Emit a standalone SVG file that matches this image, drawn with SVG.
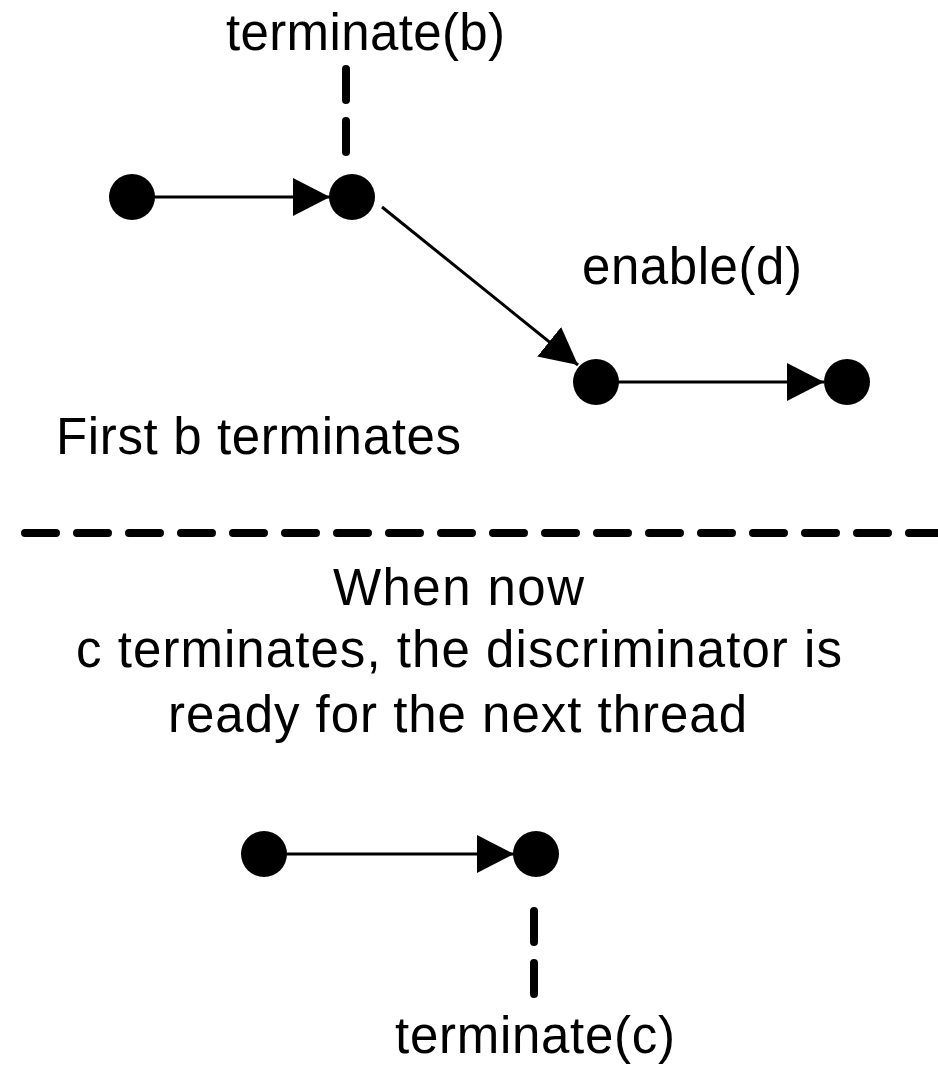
<svg xmlns="http://www.w3.org/2000/svg" width="938" height="1070" viewBox="0 0 938 1070">
<defs>
<style>
.t{font-family:"Liberation Sans",Arial,sans-serif;font-size:51px;fill:#000;text-anchor:middle}
.node{fill:#000}
.edge{stroke:#000;stroke-width:3;fill:none}
.dash{stroke:#000;stroke-width:8;stroke-linecap:round;stroke-dasharray:31 21;fill:none}
</style>
<marker id="ah" markerWidth="37" markerHeight="38" refX="37" refY="19" orient="auto" markerUnits="userSpaceOnUse">
<path d="M0,0 L37,19 L0,38 Z" fill="#000"/>
</marker>
</defs>
<rect width="938" height="1070" fill="#fff"/>
<g id="connectors">
<line class="edge" x1="154" y1="197" x2="330" y2="197" marker-end="url(#ah)"/>
<line class="edge" x1="382" y1="207" x2="578" y2="365" marker-end="url(#ah)"/>
<line class="edge" x1="618" y1="382" x2="824" y2="382" marker-end="url(#ah)"/>
<line class="edge" x1="286" y1="854" x2="514" y2="854" marker-end="url(#ah)"/>
<line class="dash" x1="346" y1="69" x2="346" y2="152"/>
<line class="dash" x1="534" y1="911" x2="534" y2="994"/>
<line class="dash" x1="25" y1="533" x2="960" y2="533"/>
</g>
<g id="n1"><circle class="node" cx="132" cy="197" r="23"/></g>
<g id="n2"><circle class="node" cx="352" cy="197" r="23"/></g>
<g id="n3"><circle class="node" cx="596" cy="382" r="23"/></g>
<g id="n4"><circle class="node" cx="847" cy="382" r="23"/></g>
<g id="n5"><circle class="node" cx="264" cy="854" r="23"/></g>
<g id="n6"><circle class="node" cx="536" cy="854" r="23"/></g>
<g id="labels">
<text class="t" x="365.5" y="50" textLength="279" lengthAdjust="spacing">terminate(b)</text>
<text class="t" x="692" y="284" textLength="220" lengthAdjust="spacing">enable(d)</text>
<text class="t" x="258.5" y="454" textLength="405" lengthAdjust="spacing">First b terminates</text>
<text class="t" x="458.5" y="605" textLength="251" lengthAdjust="spacing">When now</text>
<text class="t" x="459" y="667" textLength="766" lengthAdjust="spacing">c terminates, the discriminator is</text>
<text class="t" x="457.5" y="732" textLength="579" lengthAdjust="spacing">ready for the next thread</text>
<text class="t" x="535" y="1053" textLength="280" lengthAdjust="spacing">terminate(c)</text>
</g>
</svg>
